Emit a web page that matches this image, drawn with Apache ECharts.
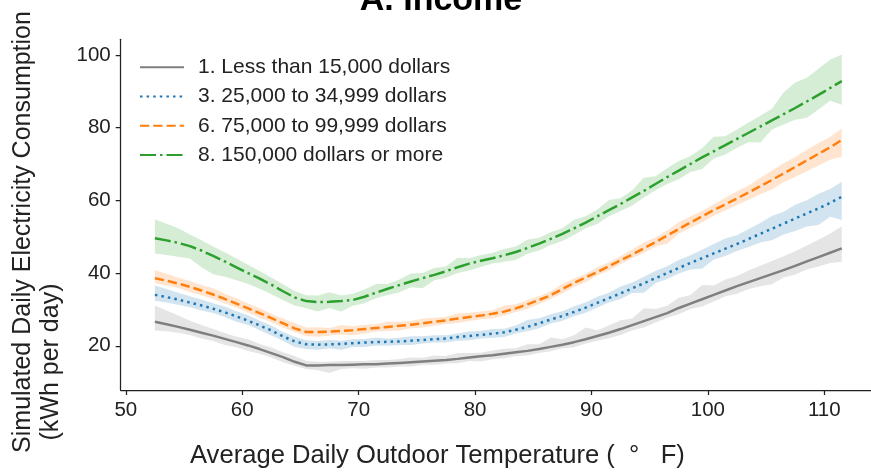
<!DOCTYPE html>
<html>
<head>
<meta charset="utf-8">
<script src="https://cdn.jsdelivr.net/npm/echarts@6/dist/echarts.min.js"></script>
<style>
  html, body { margin: 0; padding: 0; background: #ffffff; }
  #chart { width: 871px; height: 472px; }
</style>
</head>
<body>
<div id="chart"></div>
<script>
// Average daily outdoor temperature (°F), one bin per degree
const temps = [52.5, 53.5, 54.5, 55.5, 56.5, 57.5, 58.5, 59.5, 60.5, 61.5,
               62.5, 63.5, 64.5, 65.5, 66.5, 67.5, 68.5, 69.5, 70.5, 71.5,
               72.5, 73.5, 74.5, 75.5, 76.5, 77.5, 78.5, 79.5, 80.5, 81.5,
               82.5, 83.5, 84.5, 85.5, 86.5, 87.5, 88.5, 89.5, 90.5, 91.5,
               92.5, 93.5, 94.5, 95.5, 96.5, 97.5, 98.5, 99.5, 100.5, 101.5,
               102.5, 103.5, 104.5, 105.5, 106.5, 107.5, 108.5, 109.5, 110.5, 111.5];

const xTicks = [50, 60, 70, 80, 90, 100, 110];
const yTicks = [20, 40, 60, 80, 100];

const seriesNames = ['1. Less than 15,000 dollars', '3. 25,000 to 34,999 dollars',
                     '6. 75,000 to 99,999 dollars', '8. 150,000 dollars or more'];

// Mean simulated daily consumption (kWh per day) by income group
const lowIncome = [26.6, 25.9, 25.2, 24.4, 23.6, 22.8, 21.9, 21.0, 20.1, 19.1,
                   18.0, 16.9, 15.6, 14.6, 14.6, 14.7, 14.7, 14.8, 14.9, 14.9,
                   15.1, 15.3, 15.5, 15.7, 15.9, 16.1, 16.4, 16.8, 17.1, 17.4,
                   17.8, 18.2, 18.6, 19.1, 19.7, 20.3, 21.0, 21.8, 22.7, 23.6,
                   24.6, 25.7, 26.8, 27.9, 29.0, 30.4, 31.6, 32.8, 34.0, 35.2,
                   36.4, 37.5, 38.6, 39.7, 40.8, 42.0, 43.2, 44.4, 45.6, 46.8];
const lowerMid = [34.0, 33.4, 32.7, 31.9, 31.1, 30.2, 29.2, 28.1, 26.9, 25.6,
                  24.2, 22.6, 21.2, 20.4, 20.3, 20.4, 20.5, 20.7, 20.9, 21.0,
                  21.1, 21.2, 21.4, 21.6, 21.8, 22.0, 22.4, 22.7, 23.0, 23.3,
                  23.7, 24.4, 25.2, 26.2, 27.2, 28.2, 29.3, 30.5, 31.8, 33.1,
                  34.4, 35.8, 37.2, 38.6, 40.0, 41.4, 42.8, 44.1, 45.4, 46.7,
                  48.0, 49.4, 50.8, 52.2, 53.6, 55.0, 56.4, 57.8, 59.3, 61.0];
const upperMid = [38.6, 37.9, 37.1, 36.2, 35.2, 34.1, 32.9, 31.6, 30.3, 29.0,
                  27.6, 26.2, 24.8, 23.8, 23.8, 23.9, 24.1, 24.3, 24.6, 24.9,
                  25.2, 25.5, 25.8, 26.2, 26.6, 27.0, 27.5, 27.9, 28.3, 28.8,
                  29.4, 30.3, 31.4, 32.6, 33.9, 35.6, 37.3, 38.8, 40.3, 41.9,
                  43.5, 45.1, 46.8, 48.5, 50.3, 52.1, 53.9, 55.6, 57.3, 58.9,
                  60.5, 62.2, 63.9, 65.6, 67.4, 69.2, 71.0, 72.8, 74.6, 76.6];
const highIncome = [49.6, 49.0, 48.3, 47.4, 46.2, 44.7, 43.2, 41.6, 40.0, 38.5,
                    36.8, 35.0, 33.3, 32.3, 32.0, 32.1, 32.3, 32.6, 33.5, 34.6,
                    35.7, 36.7, 37.7, 38.6, 39.5, 40.5, 41.6, 42.6, 43.4, 44.1,
                    44.9, 45.8, 46.9, 48.1, 49.4, 50.8, 52.3, 53.9, 55.6, 57.3,
                    59.0, 60.8, 62.6, 64.5, 66.4, 68.2, 70.0, 71.8, 73.5, 75.2,
                    76.9, 78.6, 80.3, 82.0, 83.7, 85.4, 87.2, 89.0, 90.9, 92.8];

// Confidence band: distance above / below each mean
const lowIncomeUp = [4.5, 3.8, 3.1, 2.5, 2.1, 1.8, 1.6, 1.5, 1.7, 1.4, 1.5, 1.3, 1.6, 1.2,
                     1.0, 0.9, 1.1, 1.0, 0.9, 1.2, 1.0, 1.1, 1.3, 1.0, 1.4, 1.1, 1.6, 1.2, 1.0, 1.3,
                     1.4, 1.1, 1.8, 1.3, 2.6, 1.5, 1.9, 3.2, 1.6, 2.0, 2.4, 1.8, 3.5, 2.2, 2.0,
                     2.8, 2.4, 3.9, 2.6, 3.0, 2.8, 3.2, 3.4, 3.6, 3.8, 4.0, 4.4, 4.8, 5.3, 6.0];
const lowIncomeDown = [2.4, 1.9, 1.6, 1.4, 1.6, 1.5, 1.7, 1.4, 1.5, 1.3, 1.2, 1.4, 1.1, 1.0,
                       1.3, 2.2, 1.1, 1.0, 1.2, 0.9, 1.1, 1.0, 1.2, 0.9, 1.1, 1.0, 1.2, 1.0, 1.4, 1.1,
                       1.2, 1.0, 1.3, 1.1, 1.2, 1.0, 1.4, 1.2, 1.3, 1.5, 1.6, 1.4, 1.8, 1.5, 1.3,
                       1.7, 1.5, 2.0, 1.8, 1.6, 2.1, 1.9, 2.2, 2.8, 2.0, 2.4, 2.2, 2.6, 2.8, 3.7];
const lowerMidUp = [2.6, 2.2, 1.9, 1.7, 1.6, 1.5, 1.6, 1.4, 1.5, 1.3, 1.4, 1.2, 1.3, 1.1,
                    1.0, 1.2, 0.9, 1.1, 1.0, 1.3, 0.9, 1.0, 1.2, 1.0, 1.1, 0.9, 1.0, 1.2, 1.1, 1.3,
                    1.0, 1.2, 1.9, 1.4, 1.5, 1.3, 1.6, 1.4, 1.7, 1.5, 1.9, 1.6, 1.8, 2.0, 1.9,
                    2.2, 2.1, 2.3, 2.6, 2.8, 2.4, 2.7, 3.0, 3.5, 3.3, 3.8, 3.6, 4.0, 3.8, 4.1];
const lowerMidDown = [1.6, 1.5, 1.4, 1.3, 1.4, 1.2, 1.3, 1.5, 1.2, 1.3, 1.4, 1.2, 1.5, 1.3,
                      1.4, 1.1, 1.6, 1.0, 1.2, 0.9, 1.1, 1.0, 1.2, 1.0, 0.9, 1.1, 1.0, 1.2, 1.0, 1.1,
                      1.3, 1.0, 1.2, 1.4, 1.1, 1.3, 1.2, 1.4, 1.3, 1.2, 1.5, 1.3, 2.6, 1.4, 1.6,
                      1.5, 1.8, 2.9, 1.7, 2.0, 1.9, 2.2, 2.4, 3.2, 3.0, 3.4, 3.6, 4.6, 3.8, 6.4];
const upperMidUp = [2.2, 1.9, 1.7, 1.6, 1.5, 1.7, 1.4, 1.5, 1.3, 1.4, 1.2, 1.3, 1.5, 1.2,
                    1.3, 1.0, 1.6, 1.1, 1.2, 1.0, 1.5, 1.1, 1.0, 1.3, 1.1, 1.0, 1.4, 1.2, 1.1, 1.0,
                    1.6, 1.1, 1.2, 1.0, 1.1, 1.4, 1.2, 1.0, 1.3, 1.1, 1.2, 1.4, 1.6, 1.3, 1.4,
                    1.9, 1.7, 1.5, 1.6, 1.8, 2.0, 1.9, 2.3, 2.6, 2.8, 2.7, 2.9, 3.0, 2.8, 3.2];
const upperMidDown = [1.4, 1.3, 1.2, 1.4, 1.3, 1.2, 1.3, 1.1, 1.2, 1.3, 1.1, 1.2, 1.0, 1.1,
                      1.3, 1.1, 1.0, 1.4, 1.2, 1.0, 1.1, 1.3, 1.0, 1.2, 1.1, 1.0, 1.2, 1.1, 1.0, 1.2,
                      1.1, 1.0, 1.3, 1.1, 1.0, 1.2, 1.1, 1.3, 1.0, 1.2, 1.1, 1.0, 1.3, 1.2, 2.2,
                      1.3, 1.4, 1.6, 1.5, 1.7, 1.8, 2.0, 2.2, 2.6, 2.4, 2.8, 3.0, 3.2, 3.4, 4.6];
const highIncomeUp = [5.2, 4.6, 4.0, 3.2, 2.8, 2.6, 2.5, 2.4, 2.3, 2.1, 2.0, 1.9, 1.8, 1.6,
                      1.8, 2.6, 1.5, 1.7, 2.0, 2.4, 1.3, 1.5, 2.2, 1.4, 1.9, 1.3, 2.6, 1.5, 1.6, 1.4,
                      1.7, 1.5, 2.3, 1.6, 1.8, 1.5, 2.4, 1.7, 1.9, 2.8, 1.6, 2.0, 3.6, 2.1, 2.4,
                      2.6, 2.2, 2.5, 4.0, 2.4, 2.6, 2.8, 3.0, 3.2, 6.0, 7.0, 6.5, 7.2, 7.8, 7.3];
const highIncomeDown = [4.2, 4.0, 3.8, 3.4, 4.6, 5.0, 4.2, 3.6, 3.0, 2.8, 2.6, 2.4, 2.2, 2.0,
                        2.6, 1.7, 2.9, 1.6, 1.8, 1.5, 1.7, 2.0, 1.6, 2.8, 1.5, 1.8, 1.6, 1.9, 1.7, 1.5,
                        1.8, 2.2, 1.6, 1.9, 1.7, 2.0, 1.8, 1.6, 2.1, 1.7, 1.9, 2.2, 1.8, 1.7, 1.9,
                        2.4, 2.2, 3.2, 2.0, 2.6, 2.4, 2.6, 4.4, 2.5, 2.8, 3.2, 4.5, 4.0, 3.5, 6.5];

const FONT = "'Liberation Sans', Arial, Helvetica, sans-serif";
const INK = '#222222';

// Shaded band between mean - down and mean + up, drawn as one polygon
function band(name, mean, up, down, fill) {
  return {
    type: 'custom',
    name: name + ' (band)',
    silent: true,
    z: 1,
    data: [[temps[0], mean[0]]],
    renderItem: function (params, api) {
      const upper = temps.map((t, i) => api.coord([t, mean[i] + up[i]]));
      const lower = temps.map((t, i) => api.coord([t, mean[i] - down[i]])).reverse();
      return {
        type: 'polygon',
        shape: { points: upper.concat(lower) },
        style: { fill: fill, stroke: null }
      };
    }
  };
}

function line(name, mean, color, dash) {
  return {
    type: 'line',
    name: name,
    data: temps.map((t, i) => [t, mean[i]]),
    symbol: 'none',
    showSymbol: false,
    z: 3,
    lineStyle: { color: color, width: 2.5, type: dash, cap: 'butt' },
    itemStyle: { color: color }
  };
}

const chart = echarts.init(document.getElementById('chart'), null, { renderer: 'canvas' });

chart.setOption({
  animation: false,
  backgroundColor: '#ffffff',
  textStyle: { fontFamily: FONT },
  grid: { left: 120.7, right: 0, top: 39.3, bottom: 82, containLabel: false },
  xAxis: {
    type: 'value',
    min: 49.562,
    max: 114.01,
    axisLine: { show: true, lineStyle: { color: INK, width: 1.25 } },
    axisTick: { show: true, length: 5, lineStyle: { color: INK, width: 1.25 }, customValues: xTicks },
    axisLabel: { color: INK, fontSize: 20.5, fontFamily: FONT, margin: 10, customValues: xTicks },
    splitLine: { show: false }
  },
  yAxis: {
    type: 'value',
    min: 7.84,
    max: 104.3,
    axisLine: { show: true, lineStyle: { color: INK, width: 1.25 } },
    axisTick: { show: true, length: 5, lineStyle: { color: INK, width: 1.25 }, customValues: yTicks },
    axisLabel: { color: INK, fontSize: 20.5, fontFamily: FONT, margin: 10, customValues: yTicks },
    splitLine: { show: false }
  },
  legend: {
    data: seriesNames,
    orient: 'vertical',
    left: 139,
    top: 56.7,
    itemWidth: 44,
    itemHeight: 14,
    itemGap: 8.3,
    padding: 0,
    itemStyle: { opacity: 0 },
    textStyle: { color: INK, fontSize: 21, fontFamily: FONT, lineHeight: 20, padding: [0, 0, 0, 9] }
  },
  graphic: [
    {
      type: 'text', x: 441, y: 0.5,
      style: { text: 'A. Income', fontFamily: FONT, fontSize: 34, fontWeight: 'bold',
               fill: '#000000', align: 'center', verticalAlign: 'middle' }
    },
    {
      type: 'text', x: 190, y: 455.5,
      style: { text: 'Average Daily Outdoor Temperature (  \u00B0   F)', fontFamily: FONT, fontSize: 25.6,
               fill: INK, align: 'left', verticalAlign: 'middle' }
    },
    {
      type: 'text', x: 23, y: 232, rotation: Math.PI / 2,
      style: { text: 'Simulated Daily Electricity Consumption', fontFamily: FONT, fontSize: 25,
               fill: INK, align: 'center', verticalAlign: 'middle' }
    },
    {
      type: 'text', x: 51, y: 362, rotation: Math.PI / 2,
      style: { text: '(kWh per day)', fontFamily: FONT, fontSize: 25,
               fill: INK, align: 'center', verticalAlign: 'middle' }
    }
  ],
  series: [
    band(seriesNames[0], lowIncome, lowIncomeUp, lowIncomeDown, 'rgba(127,127,127,0.2)'),
    band(seriesNames[1], lowerMid, lowerMidUp, lowerMidDown, 'rgba(31,119,180,0.2)'),
    band(seriesNames[2], upperMid, upperMidUp, upperMidDown, 'rgba(255,127,14,0.2)'),
    band(seriesNames[3], highIncome, highIncomeUp, highIncomeDown, 'rgba(44,160,44,0.2)'),
    line(seriesNames[0], lowIncome, '#7f7f7f', 'solid'),
    line(seriesNames[1], lowerMid, '#1f77b4', [2.5, 4.1]),
    line(seriesNames[2], upperMid, '#ff7f0e', [9.25, 4]),
    line(seriesNames[3], highIncome, '#2ca02c', [16, 4, 2.5, 4])
  ]
});
</script>
</body>
</html>
